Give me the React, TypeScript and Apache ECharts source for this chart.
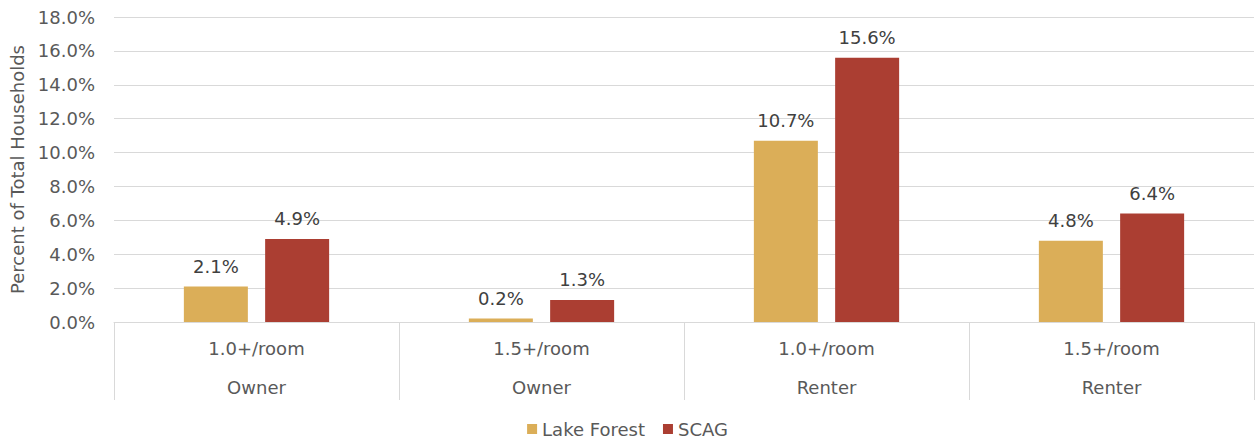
import React, { useEffect, useRef } from "react";
import * as echarts from "echarts";

const subCategories = ["1.0+/room", "1.5+/room", "1.0+/room", "1.5+/room"];
const groups = ["Owner", "Owner", "Renter", "Renter"];
const lakeForest = [2.1, 0.2, 10.7, 4.8];
const scag = [4.9, 1.3, 15.6, 6.4];
const seriesNames = ["Lake Forest", "SCAG"];

const FONT = "DejaVu Sans";
const TEXT = "#595959";

export default function App() {
  const ref = useRef<HTMLDivElement>(null);
  useEffect(() => {
    if (!ref.current) return;
    const chart = echarts.init(ref.current, null, { renderer: "svg" });
    const cats = subCategories.map((s, i) => `${s}\n${groups[i]}`);
    const label = {
      show: true,
      position: "top",
      distance: 11,
      color: "#404040",
      fontSize: 18,
      fontFamily: FONT,
      formatter: (p: any) => `${Number(p.value).toFixed(1)}%`,
    };
    chart.setOption({
      animation: false,
      textStyle: { fontFamily: FONT },
      grid: { left: 114, right: 1, top: 17, bottom: 121, outerBoundsMode: "none", containLabel: false },
      legend: {
        data: seriesNames,
        top: 420,
        left: "center",
        padding: 0,
        itemWidth: 10,
        itemHeight: 10,
        itemGap: 18,
        icon: "rect",
        textStyle: { color: TEXT, fontSize: 18, fontFamily: FONT },
      },
      xAxis: {
        type: "category",
        data: cats,
        axisLine: { show: true, lineStyle: { color: "#d9d9d9", width: 1 } },
        axisTick: { show: true, length: 78, interval: 0, lineStyle: { color: "#d9d9d9" } },
        axisLabel: {
          interval: 0,
          margin: 7,
          color: TEXT,
          fontSize: 18,
          lineHeight: 39,
          fontFamily: FONT,
        },
      },
      yAxis: {
        type: "value",
        min: 0,
        max: 18,
        interval: 2,
        name: "Percent of Total Households",
        nameLocation: "middle",
        nameGap: 88,
        nameTextStyle: { color: TEXT, fontSize: 18, fontFamily: FONT },
        axisLine: { show: false },
        axisTick: { show: false },
        axisLabel: {
          margin: 19,
          color: TEXT,
          fontSize: 18,
          fontFamily: FONT,
          formatter: (v: number) => `${v.toFixed(1)}%`,
        },
        splitLine: { lineStyle: { color: "#d9d9d9", width: 1 } },
      },
      series: [
        {
          name: seriesNames[0],
          type: "bar",
          data: lakeForest,
          barWidth: 64,
          barGap: "27%",
          itemStyle: { color: "#DBAE58" },
          label,
        },
        {
          name: seriesNames[1],
          type: "bar",
          data: scag,
          barWidth: 64,
          barGap: "27%",
          itemStyle: { color: "#AB3E32" },
          label,
        },
      ],
    });
    return () => chart.dispose();
  }, []);
  return (
    <div
      ref={ref}
      style={{ position: "absolute", left: 0, top: 0, width: 1255, height: 443 }}
    />
  );
}
